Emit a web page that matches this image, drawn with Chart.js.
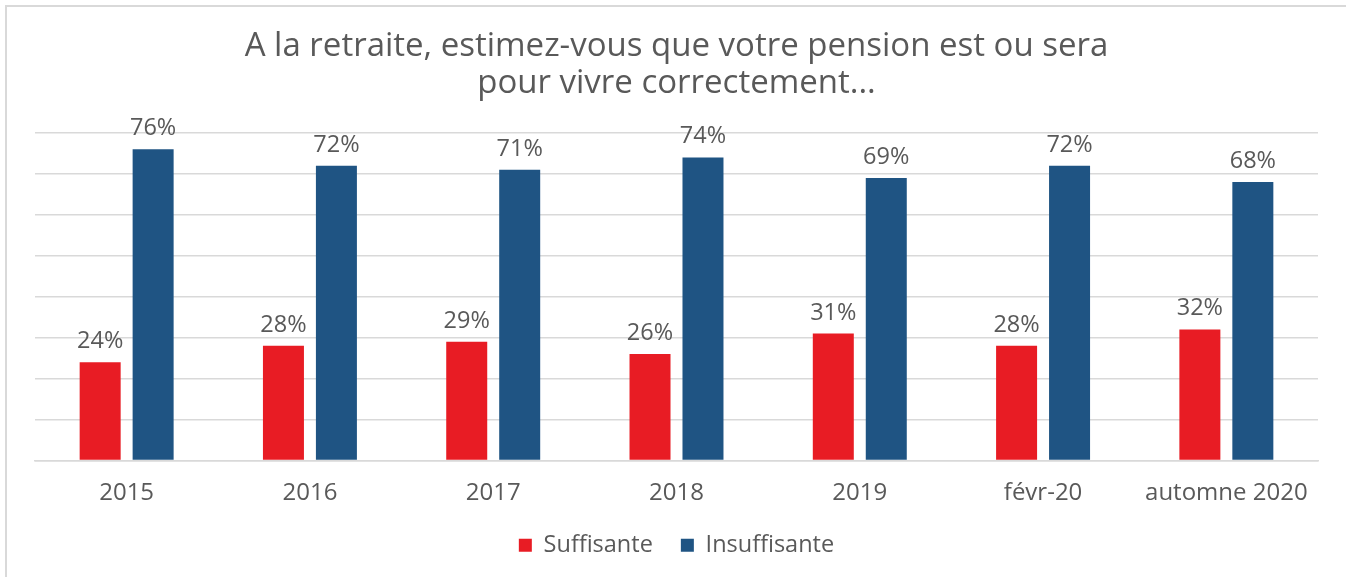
<!DOCTYPE html>
<html>
<head>
<meta charset="utf-8">
<script src="https://cdn.jsdelivr.net/npm/chart.js@4.4.0/dist/chart.umd.min.js"></script>
<style>
    html, body { margin: 0; padding: 0; background: #fff; }
    #wrap { position: relative; width: 1346px; height: 577px; overflow: hidden; }
    #frame {
        position: absolute; left: 5px; top: 5px; width: 1400px; height: 600px;
        border-top: 2px solid #d9d9d9; border-left: 2px solid #d9d9d9;
        box-sizing: border-box;
    }
    canvas { position: absolute; left: 0; top: 0; }
</style>
</head>
<body>
<div id="wrap">
    <div id="frame"></div>
    <canvas id="chart" width="1346" height="577"></canvas>
</div>
<script>
const TITLE_LINES = ['A la retraite, estimez-vous que votre pension est ou sera', 'pour vivre correctement...'];
const CATEGORIES = ['2015', '2016', '2017', '2018', '2019', 'févr-20', 'automne 2020'];
const SUFFISANTE = [24, 28, 29, 26, 31, 28, 32];
const INSUFFISANTE = [76, 72, 71, 74, 69, 72, 68];

const FONT = "'Open Sans', 'DejaVu Sans', sans-serif";
const TEXT_COLOR = '#595959';
const RED = '#E81C24';
const BLUE = '#1F5483';

// draws "24%" style labels above each bar
const barLabels = {
    id: 'barLabels',
    afterDatasetsDraw(chart) {
        const ctx = chart.ctx;
        ctx.save();
        ctx.font = `23.5px ${FONT}`;
        ctx.fillStyle = TEXT_COLOR;
        ctx.textAlign = 'center';
        ctx.textBaseline = 'bottom';
        chart.data.datasets.forEach((ds, i) => {
            const meta = chart.getDatasetMeta(i);
            meta.data.forEach((bar, j) => {
                ctx.fillText(ds.data[j] + '%', bar.x, bar.y - 9);
            });
        });
        ctx.restore();
    }
};

new Chart(document.getElementById('chart').getContext('2d'), {
    type: 'bar',
    data: {
        labels: CATEGORIES,
        datasets: [
            {
                label: 'Suffisante',
                data: SUFFISANTE,
                backgroundColor: RED,
                categoryPercentage: 0.578,
                barPercentage: 0.774
            },
            {
                label: 'Insuffisante',
                data: INSUFFISANTE,
                backgroundColor: BLUE,
                categoryPercentage: 0.578,
                barPercentage: 0.774
            }
        ]
    },
    options: {
        responsive: false,
        animation: false,
        layout: {
            padding: { left: 35, right: 28, top: 28, bottom: 10 }
        },
        plugins: {
            title: {
                display: true,
                text: TITLE_LINES,
                color: TEXT_COLOR,
                font: { family: FONT, size: 33, weight: 'normal', lineHeight: 1.12 },
                padding: { top: 0, bottom: 31 }
            },
            legend: {
                position: 'bottom',
                labels: {
                    color: TEXT_COLOR,
                    font: { family: FONT, size: 23.5 },
                    boxWidth: 13,
                    boxHeight: 13,
                    padding: 28
                }
            },
            tooltip: { enabled: false }
        },
        scales: {
            x: {
                grid: { display: false, drawTicks: false },
                border: { color: '#d9d9d9', width: 1.5 },
                ticks: { color: TEXT_COLOR, font: { family: FONT, size: 24 }, padding: 18, maxRotation: 0 },
                afterFit(scale) { scale.height = 45; }
            },
            y: {
                min: 0,
                max: 80,
                ticks: { display: false, stepSize: 10 },
                border: { display: false },
                grid: { color: '#d9d9d9', lineWidth: 1.5, drawTicks: false },
                afterFit(scale) { scale.width = 0; }
            }
        }
    },
    plugins: [barLabels]
});
</script>
</body>
</html>
